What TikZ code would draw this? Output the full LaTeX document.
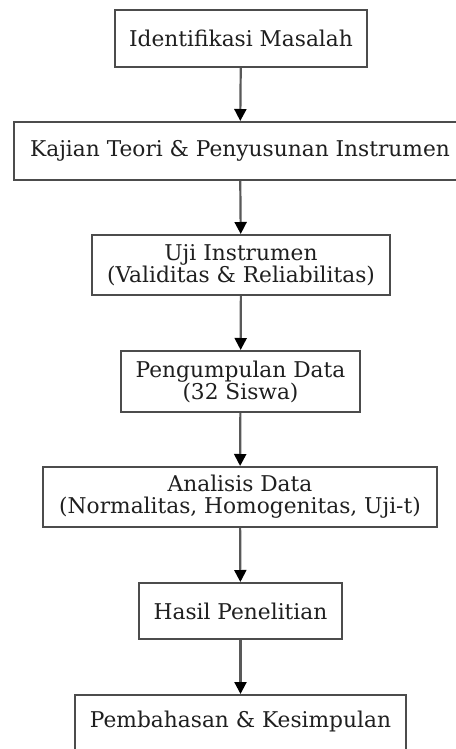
\documentclass[tikz,border=0pt]{standalone}
\usepackage{fontspec}
\setmainfont{DejaVu Serif}
\usetikzlibrary{arrows.meta}
\begin{document}
\begin{tikzpicture}[x=1bp,y=-1bp,
  txt/.style={font=\fontsize{21.8}{22}\selectfont,text=black!88,align=center,inner sep=0pt},
  box/.style={txt,draw=black!70,line width=2bp,fill=white},
  arr/.style={draw=black!65,line width=2.2bp,-{Triangle[length=12bp,width=12bp,fill=black,color=black]}}]
\useasboundingbox (0,0) rectangle (456,749);
\fill[white] (0,0) rectangle (456,749);
\node[box,minimum width=252bp,minimum height=57bp] (b1) at (241,38.5) {Identifikasi Masalah};
\node[box,minimum width=452bp,minimum height=58bp] (b2) at (240,151) {Kajian Teori \& Penyusunan Instrumen};
\node[box,minimum width=298bp,minimum height=60bp] (b3) at (241,265) {Uji Instrumen\\(Validitas \& Reliabilitas)};
\node[box,minimum width=239bp,minimum height=61bp] (b4) at (240.5,381.5) {Pengumpulan Data\\(32 Siswa)};
\node[box,minimum width=394bp,minimum height=60bp] (b5) at (240,497) {Analisis Data\\(Normalitas, Homogenitas, Uji-t)};
\node[box,minimum width=203bp,minimum height=56bp] (b6) at (240.5,611) {Hasil Penelitian};
\node[box,minimum width=331bp,minimum height=56bp] (b7) at (240.5,723) {};
\node[txt] (t7) at (240.5,721) {Pembahasan \& Kesimpulan};
\draw[arr] (b1) -- (b2);
\draw[arr] (b2) -- (b3);
\draw[arr] (b3) -- (b4);
\draw[arr] (b4) -- (b5);
\draw[arr] (b5) -- (b6);
\draw[arr] (b6) -- (b7);
\end{tikzpicture}
\end{document}
